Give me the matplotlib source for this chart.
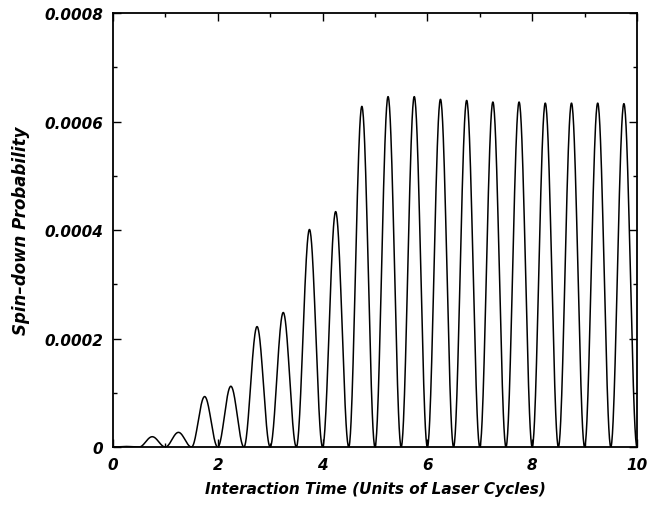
import numpy as np
import matplotlib.pyplot as plt
from matplotlib.ticker import MultipleLocator, FixedFormatter, FixedLocator

# peak of each half-cycle lobe (lobe k spans t = k*0.5 .. (k+1)*0.5)
lobe_centres = [0.25, 0.75, 1.25, 1.75, 2.25, 2.75, 3.25, 3.75, 4.25, 4.75,
                5.25, 5.75, 6.25, 6.75, 7.25, 7.75, 8.25, 8.75, 9.25, 9.75]
lobe_peaks = [0.000001, 0.000019, 0.000027, 0.000093, 0.000112, 0.000222,
              0.000248, 0.000401, 0.000434, 0.000628, 0.000646, 0.000646,
              0.000641, 0.000639, 0.000636, 0.000636, 0.000634, 0.000634,
              0.000634, 0.000633]

xticks = [0, 2, 4, 6, 8, 10]
xtick_labels = ["0", "2", "4", "6", "8", "10"]
yticks = [0, 0.0002, 0.0004, 0.0006, 0.0008]
ytick_labels = ["0", "0.0002", "0.0004", "0.0006", "0.0008"]

plt.rcParams['font.family'] = ['DejaVu Sans']

# each lobe drawn as a sin^2 hump between the zeros
t_parts, p_parts = [], []
for c, pk in zip(lobe_centres, lobe_peaks):
    t = np.linspace(c - 0.25, c + 0.25, 80)
    t_parts.append(t)
    p_parts.append(pk * np.sin(2 * np.pi * t) ** 2)
t_all = np.concatenate(t_parts)
p_all = np.concatenate(p_parts)

fig = plt.figure(figsize=(6.49, 5.06), dpi=100)
ax = fig.add_axes([0.174, 0.1146, 0.8075, 0.8577])
ax.plot(t_all, p_all, color="black", linewidth=1.1)

ax.set_xlim(0, 10)
ax.set_ylim(0, 0.0008)
ax.xaxis.set_major_locator(FixedLocator(xticks))
ax.xaxis.set_major_formatter(FixedFormatter(xtick_labels))
ax.xaxis.set_minor_locator(MultipleLocator(1))
ax.yaxis.set_major_locator(FixedLocator(yticks))
ax.yaxis.set_major_formatter(FixedFormatter(ytick_labels))
ax.yaxis.set_minor_locator(MultipleLocator(0.0001))

ax.tick_params(which="both", direction="in", top=True, right=True, width=1.0)
ax.tick_params(which="major", length=6, pad=7)
ax.tick_params(which="minor", length=3)
for lab in ax.get_xticklabels() + ax.get_yticklabels():
    lab.set_fontweight("bold")
    lab.set_fontstyle("italic")
    lab.set_fontsize(11)
for s in ax.spines.values():
    s.set_linewidth(1.3)

ax.set_xlabel("Interaction Time (Units of Laser Cycles)", fontsize=11,
              fontweight="bold", fontstyle="italic", labelpad=7)
ax.set_ylabel("Spin\u2013down Probability", fontsize=12,
              fontweight="bold", fontstyle="italic", labelpad=10)

fig.savefig("out.png", dpi=100)
